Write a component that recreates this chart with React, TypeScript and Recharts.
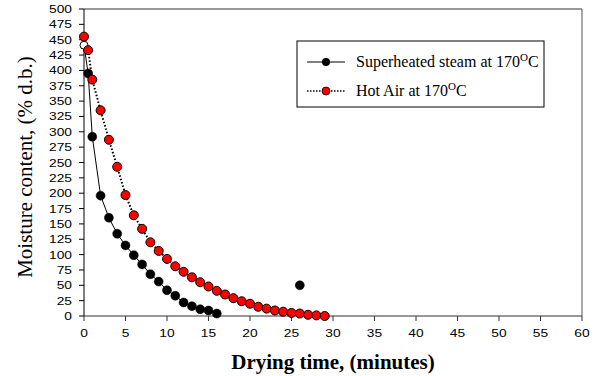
import { CartesianGrid, Label, Line, LineChart, ReferenceLine, XAxis, YAxis } from "recharts"

// drying time (min) and moisture content (% d.b.)
const steamTimes = [0, 0.5, 1, 2, 3, 4, 5, 6, 7, 8, 9, 10, 11, 12, 13, 14, 15, 16, 20, 26]
const steamMoisture = [441, 395, 292, 196, 160, 134, 115, 99, 84, 68, 56, 42, 33, 22, 16, 11, 9, 4, null, 50]

const airTimes = [0, 0.5, 1, 2, 3, 4, 5, 6, 7, 8, 9, 10, 11, 12, 13, 14, 15, 16, 17, 18, 19, 20, 21, 22, 23, 24, 25, 26, 27, 28, 29]
const airMoisture = [455, 433, 385, 335, 287, 243, 197, 164, 142, 120, 106, 93, 81, 72, 63, 55, 48, 41, 35, 29, 24, 20, 15, 12, 9, 7, 5, 4, 2, 1, 0]

const xTicks = [0, 5, 10, 15, 20, 25, 30, 35, 40, 45, 50, 55, 60]
const yTicks = [0, 25, 50, 75, 100, 125, 150, 175, 200, 225, 250, 275, 300, 325, 350, 375, 400, 425, 450, 475, 500]

const steamData = steamTimes.map((t, i) => ({ t, v: steamMoisture[i] }))
const airData = airTimes.map((t, i) => ({ t, v: airMoisture[i] }))

const serif = "'Liberation Serif', 'Times New Roman', serif"
const sans = "'Liberation Sans', Arial, sans-serif"

// tick text in the source is a bit stretched sideways
const XTick = (props: any) => {
  const { x, y, payload } = props
  return (
    <text
      transform={`translate(${x},${y + 14}) scale(1.25,1)`}
      textAnchor="middle"
      fontFamily={sans}
      fontSize={11}
      fill="#000"
    >
      {payload.value}
    </text>
  )
}

const YTick = (props: any) => {
  const { x, y, payload } = props
  return (
    <text
      transform={`translate(${x - 5},${y + 4}) scale(1.25,1)`}
      textAnchor="end"
      fontFamily={sans}
      fontSize={11}
      fill="#000"
    >
      {payload.value}
    </text>
  )
}

const SteamDot = (props: any) => {
  const { cx, cy, index, payload } = props
  if (payload.v == null || cx == null || cy == null) return <g key={index} />
  if (index === 0) {
    return <circle key={index} cx={cx} cy={cy} r={4} fill="#fff" stroke="#000" strokeWidth={1} />
  }
  return <circle key={index} cx={cx} cy={cy} r={4.5} fill="#000" stroke="#000" strokeWidth={0.5} />
}

const AirDot = (props: any) => {
  const { cx, cy, index } = props
  return <circle key={index} cx={cx} cy={cy} r={4.5} fill="#ff0000" stroke="#000" strokeWidth={1} />
}

function Deg({ text }: { text: string }) {
  return (
    <>
      {text}
      <tspan dy={-6} fontSize={11}>O</tspan>
      <tspan dy={6}>C</tspan>
    </>
  )
}

function LegendBox() {
  return (
    <svg width={250} height={70} style={{ position: "absolute", left: 296, top: 40 }}>
      <rect x={1} y={1} width={247} height={66} fill="#fff" stroke="#000" strokeWidth={1} />
      <line x1={11} x2={49} y1={22} y2={22} stroke="#000" strokeWidth={1} />
      <circle cx={30} cy={22} r={4} fill="#000" />
      <text x={60} y={27} fontFamily={serif} fontSize={16} fill="#000">
        <Deg text="Superheated steam at 170" />
      </text>
      <line x1={11} x2={49} y1={51} y2={51} stroke="#000" strokeWidth={1.5} strokeDasharray="1.5 1.5" />
      <circle cx={30} cy={51} r={4} fill="#ff0000" stroke="#000" strokeWidth={0.8} />
      <text x={60} y={56} fontFamily={serif} fontSize={16} fill="#000">
        <Deg text="Hot Air at 170" />
      </text>
    </svg>
  )
}

export default function App() {
  return (
    <div style={{ position: "absolute", left: 0, top: 0, width: 594, height: 376, background: "#fff" }}>
      <LineChart width={594} height={376} margin={{ top: 9, right: 12, bottom: 30, left: 0 }}>
        <CartesianGrid stroke="none" />
        <XAxis
          dataKey="t"
          type="number"
          domain={[0, 60]}
          ticks={xTicks}
          allowDuplicatedCategory={false}
          height={30}
          stroke="#333"
          tickSize={5}
          tick={XTick}
        >
          <Label
            content={(p: any) => (
              <text
                x={p.viewBox.x + p.viewBox.width / 2}
                y={369}
                textAnchor="middle"
                fontFamily={serif}
                fontWeight="bold"
                fontSize={21}
                fill="#000"
              >
                Drying time, (minutes)
              </text>
            )}
          />
        </XAxis>
        <YAxis
          type="number"
          domain={[0, 500]}
          ticks={yTicks}
          interval={0}
          width={84}
          stroke="#000"
          tickSize={5}
          tick={YTick}
        >
          <Label
            content={() => (
              <text
                x={0}
                y={0}
                transform="translate(32,167) rotate(-90)"
                textAnchor="middle"
                fontFamily={serif}
                fontSize={21}
                fill="#000"
              >
                Moisture content, (% d.b.)
              </text>
            )}
          />
        </YAxis>
        <ReferenceLine y={500} stroke="#777" strokeWidth={1.5} />
        <ReferenceLine x={60} stroke="#555" strokeWidth={1} />
        <Line
          data={steamData}
          dataKey="v"
          stroke="#000"
          strokeWidth={1}
          dot={SteamDot}
          connectNulls={false}
          isAnimationActive={false}
        />
        <Line
          data={airData}
          dataKey="v"
          stroke="#000"
          strokeWidth={2}
          strokeDasharray="1.5 2"
          dot={AirDot}
          isAnimationActive={false}
        />
      </LineChart>
      <LegendBox />
    </div>
  )
}
